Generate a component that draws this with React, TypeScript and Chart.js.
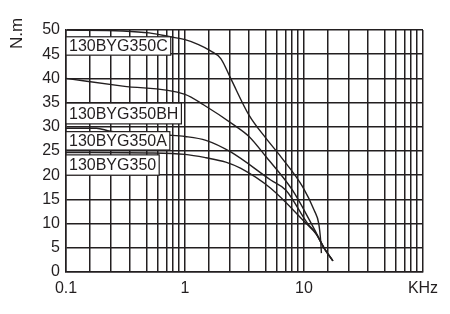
import React, { useEffect, useRef } from "react";
import { Chart, registerables } from "chart.js";

Chart.register(...registerables);

// ---- data ----
const cFreq = [0.1, 0.3, 0.5, 0.75, 1.0, 1.3, 1.64, 2.0, 2.42, 3.45, 4.8, 6.4, 9.75, 12.2, 13.3, 13.8, 14.0];
const cTorque = [50, 49.8, 49.4, 48.6, 48.0, 47.0, 45.7, 44.1, 40.0, 32.4, 27.6, 23.8, 17.6, 12.7, 10.0, 6.5, 3.9];

const bhFreq = [0.1, 0.3, 1.0, 1.44, 2.57, 3.45, 4.8, 8.0, 11.5, 12.6, 14.8, 17.5];
const bhTorque = [40, 38.4, 36.7, 34.5, 30.4, 28.0, 23.8, 16.9, 10.06, 8.2, 4.9, 2.3];

const aFreq = [0.1, 0.18, 0.235, 0.4, 0.71, 1.0, 1.5, 2.42, 5.25, 7.05, 10.7, 12.6, 14.8, 17.5];
const aTorque = [29.7, 29.7, 29.1, 28.7, 28.3, 28.0, 27.2, 24.8, 19.0, 16.9, 10.06, 8.0, 4.9, 2.3];

const baseFreq = [0.1, 0.5, 1.0, 1.5, 2.2, 2.95, 5.25, 10.4, 12.6, 14.8, 17.5];
const baseTorque = [24.7, 24.6, 24.3, 23.6, 22.7, 21.4, 17.3, 10.06, 7.9, 4.9, 2.3];

const seriesNames = ["130BYG350C", "130BYG350BH", "130BYG350A", "130BYG350"];
const labelTop = [48.6, 34.9, 29.0, 24.2];
const labelBottom = [44.8, 30.6, 25.2, 20.0];

const xDecades = [-1, 0, 1];
const xGridFractions = [0, 0.2, 0.38, 0.535, 0.675, 0.77, 0.845, 0.9, 0.95];
const xTickLabels: [number, string][] = [
  [0.1, "0.1"],
  [1, "1"],
  [10, "10"],
  [100, "KHz"],
];
const yTitle = "N.m";

const INK = "#231f20";
const FONT = "'Liberation Sans', Arial, sans-serif";

function pts(xs: number[], ys: number[]) {
  return xs.map((x, i) => ({ x, y: ys[i] }));
}

export default function App() {
  const ref = useRef<HTMLCanvasElement | null>(null);

  useEffect(() => {
    if (!ref.current) return;
    const gridValues: number[] = [];
    xDecades.forEach((d) => xGridFractions.forEach((f) => gridValues.push(Math.pow(10, d + f))));
    gridValues.push(100);

    const overlay = {
      id: "overlay",
      afterDatasetsDraw(chart: any) {
        const ctx = chart.ctx;
        const ys = chart.scales.y;
        const area = chart.chartArea;
        ctx.save();
        ctx.font = `16px ${FONT}`;
        seriesNames.forEach((name, i) => {
          const top = ys.getPixelForValue(labelTop[i]);
          const bot = ys.getPixelForValue(labelBottom[i]);
          const w = ctx.measureText(name).width + 6;
          ctx.fillStyle = "#ffffff";
          ctx.fillRect(area.left, top, w, bot - top);
          ctx.strokeStyle = INK;
          ctx.lineWidth = 1.2;
          ctx.strokeRect(area.left, top, w, bot - top);
          ctx.fillStyle = INK;
          ctx.textBaseline = "middle";
          ctx.textAlign = "left";
          ctx.fillText(name, area.left + 3, (top + bot) / 2 + 1);
        });
        // y title
        ctx.translate(17, 33.5);
        ctx.rotate(-Math.PI / 2);
        ctx.font = `17px ${FONT}`;
        ctx.textAlign = "center";
        ctx.textBaseline = "middle";
        ctx.fillText(yTitle, 0, 0);
        ctx.restore();
      },
    };

    const mk = (data: { x: number; y: number }[]) => ({
      data,
      borderColor: INK,
      borderWidth: 1.4,
      pointRadius: 0,
      fill: false,
      cubicInterpolationMode: "monotone" as const,
    });

    const chart = new Chart(ref.current, {
      type: "line",
      data: {
        datasets: [
          mk(pts(cFreq, cTorque)),
          mk(pts(bhFreq, bhTorque)),
          mk(pts(aFreq, aTorque)),
          mk(pts(baseFreq, baseTorque)),
        ],
      },
      options: {
        animation: false,
        responsive: false,
        layout: { padding: { left: 0, top: 30, right: 27, bottom: 0 } },
        plugins: { legend: { display: false }, tooltip: { enabled: false } },
        scales: {
          x: {
            type: "logarithmic",
            min: 0.1,
            max: 100,
            afterBuildTicks: (scale: any) => {
              scale.ticks = gridValues.map((v) => ({ value: v }));
            },
            afterFit: (scale: any) => {
              scale.height = 42;
            },
            grid: { color: INK, lineWidth: 1.5, drawTicks: false },
            border: { color: INK, width: 1.5 },
            ticks: {
              autoSkip: false,
              maxRotation: 0,
              padding: 7,
              color: INK,
              font: { family: FONT, size: 16 },
              callback: (value: any) => {
                const v = Number(value);
                const hit = xTickLabels.find(([t]) => Math.abs(t - v) / t < 1e-6);
                return hit ? hit[1] : "";
              },
            },
          },
          y: {
            min: 0,
            max: 50,
            afterFit: (scale: any) => {
              scale.width = 66;
            },
            grid: { color: INK, lineWidth: 1.5, drawTicks: false },
            border: { color: INK, width: 1.5 },
            ticks: {
              stepSize: 5,
              padding: 6,
              color: INK,
              font: { family: FONT, size: 16 },
            },
          },
        },
      },
      plugins: [overlay],
    } as any);
    return () => chart.destroy();
  }, []);

  return (
    <canvas
      ref={ref}
      width={450}
      height={314}
      style={{ position: "absolute", left: 0, top: 0, display: "block", background: "#fff" }}
    />
  );
}
